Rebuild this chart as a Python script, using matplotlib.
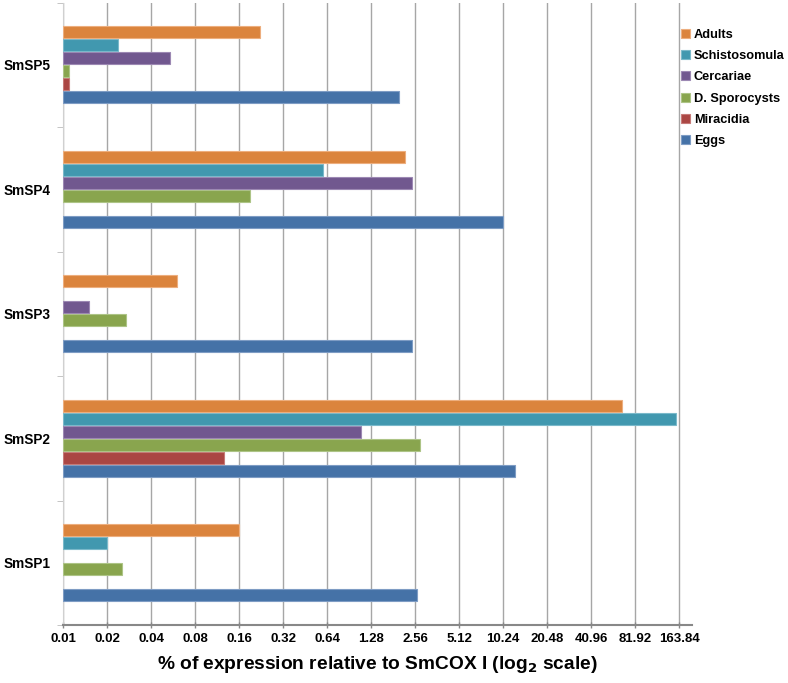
import numpy as np
import matplotlib
matplotlib.use("Agg")
import matplotlib.pyplot as plt
from matplotlib.ticker import FixedLocator, FixedFormatter, NullFormatter

plt.rcParams['font.family'] = ['Liberation Sans', 'DejaVu Sans']
plt.rcParams['font.weight'] = 'bold'

# Data (% expression relative to SmCOX I); NaN = not detected
genes = ['SmSP1', 'SmSP2', 'SmSP3', 'SmSP4', 'SmSP5']
stages = ['Eggs', 'Miracidia', 'D. Sporocysts', 'Cercariae', 'Schistosomula', 'Adults']
eggs = [2.65, 12.3, 2.43, 10.2, 1.99]
miracidia = [np.nan, 0.126, np.nan, np.nan, 0.011]
d_sporocysts = [0.0252, 2.78, 0.0271, 0.190, 0.011]
cercariae = [np.nan, 1.10, 0.0150, 2.45, 0.0536]
schistosomula = [0.020, 157.0, np.nan, 0.598, 0.0238]
adults = [0.160, 67.0, 0.0598, 2.18, 0.223]
xticks = [0.01 * 2 ** i for i in range(15)]
xtick_labels = ['0.01', '0.02', '0.04', '0.08', '0.16', '0.32', '0.64', '1.28',
                '2.56', '5.12', '10.24', '20.48', '40.96', '81.92', '163.84']

series = [eggs, miracidia, d_sporocysts, cercariae, schistosomula, adults]
colors = ['#4572A7', '#AA4643', '#89A54E', '#71588F', '#4198AF', '#DB843D']
edges = ['#7E9CC4', '#C67A78', '#ADC486', '#9C88B3', '#7AB9CA', '#EDAE7E']

fig = plt.figure(figsize=(7.88, 6.83), dpi=100)
ax = fig.add_axes([0.08, 0.085, 0.798, 0.911])

y = np.arange(len(genes))
slot = 0.1045
base = 0.01
for i, (vals, c, ec, name) in enumerate(zip(series, colors, edges, stages)):
    v = np.array(vals, dtype=float)
    ax.barh(y + (i - 2.5) * slot, v - base, left=base, height=0.097,
            color=c, edgecolor=ec, linewidth=0.8, label=name, zorder=3)

ax.set_xscale('log', base=2)
ax.set_xlim(0.01, 200.2)
ax.set_ylim(-0.5, len(genes) - 0.5)

ax.xaxis.set_major_locator(FixedLocator(xticks))
ax.xaxis.set_major_formatter(FixedFormatter(xtick_labels))
ax.xaxis.set_minor_locator(FixedLocator([]))
ax.xaxis.set_minor_formatter(NullFormatter())
ax.tick_params(axis='x', direction='inout', length=5, width=1, color='#888888',
               labelsize=9.5, pad=3)
for lab in ax.get_xticklabels():
    lab.set_fontweight('bold')

ax.set_yticks(y)
ax.set_yticklabels(genes, fontsize=9.8, fontweight='bold')
ax.set_yticks(np.arange(-0.5, len(genes)), minor=True)
ax.tick_params(axis='y', which='major', length=0, pad=9)
ax.tick_params(axis='y', which='minor', length=4, color='#BBBBBB', direction='out')

ax.grid(axis='x', color='#A6A6A6', linewidth=1, zorder=0)
ax.set_axisbelow(True)

for s in ['top', 'right']:
    ax.spines[s].set_visible(False)
ax.spines['left'].set_color('#D0D0D0')
ax.spines['bottom'].set_color('#888888')
ax.spines['bottom'].set_linewidth(1.5)

ax.set_xlabel('% of expression relative to SmCOX I (log$_\\mathbf{2}$ scale)',
              fontsize=13.8, fontweight='bold', labelpad=7)

handles, labels = ax.get_legend_handles_labels()
leg = fig.legend(handles[::-1], labels[::-1], loc='upper left',
                 bbox_to_anchor=(0.858, 0.965), frameon=False, fontsize=9.2,
                 handlelength=0.7, handleheight=0.7, handletextpad=0.3,
                 labelspacing=0.72, borderaxespad=0)
for t in leg.get_texts():
    t.set_fontweight('bold')

fig.savefig('out.png', dpi=100)
